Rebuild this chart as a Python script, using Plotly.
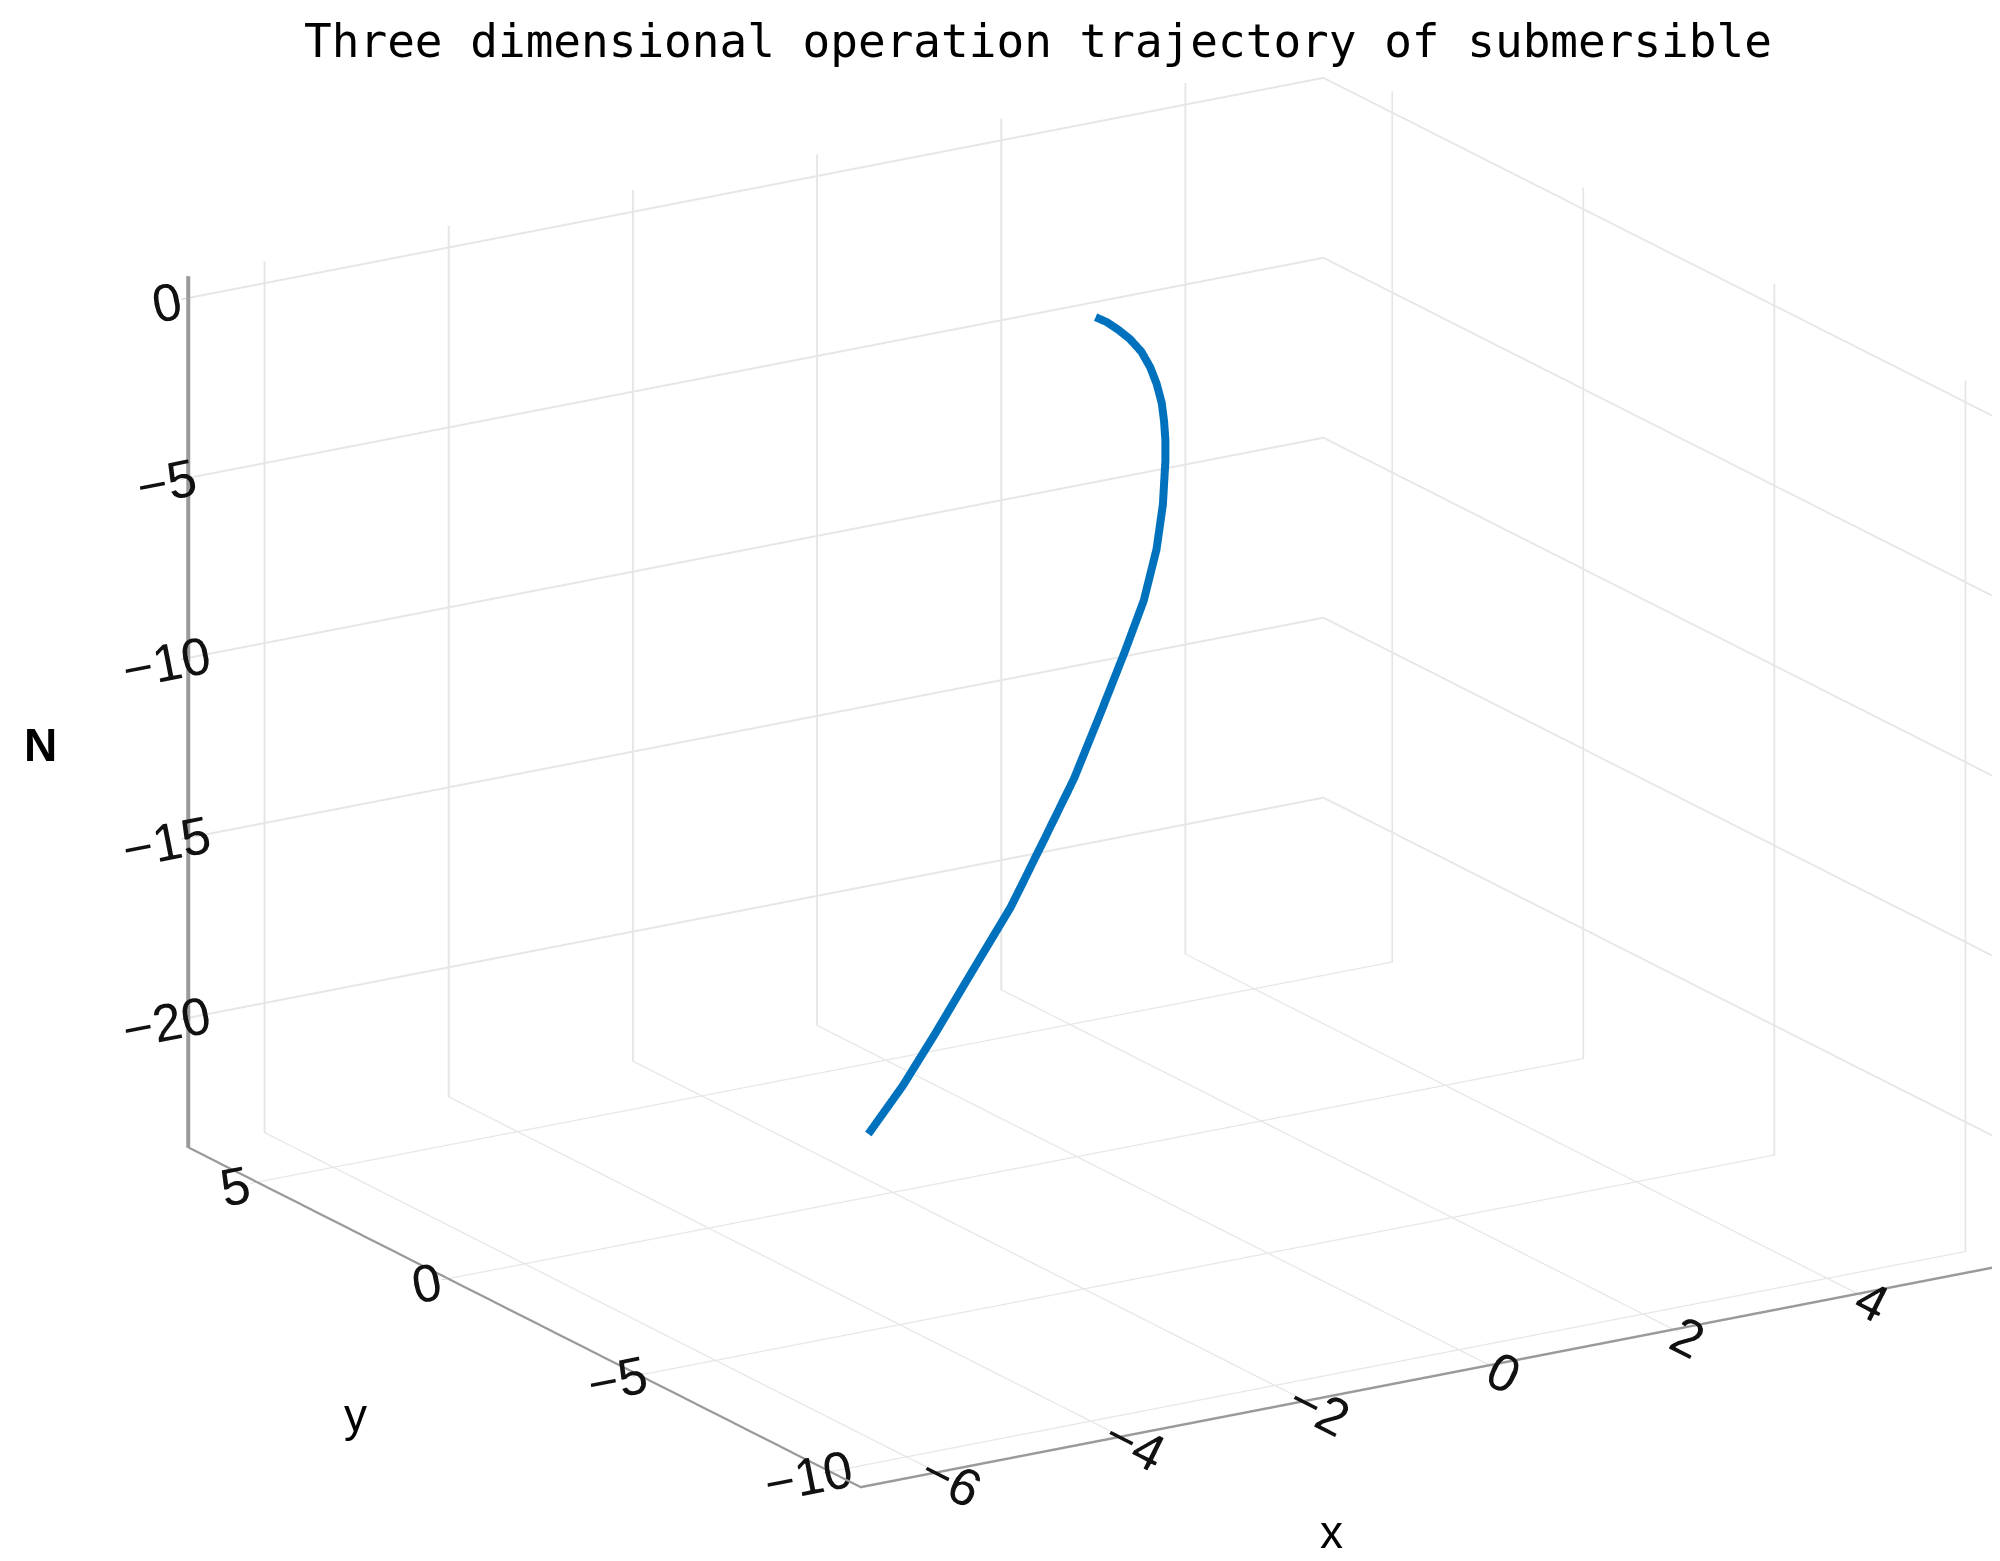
import plotly.graph_objects as go

# trajectory samples (horizontal drift, depth)
x_pos = [0.240, 0.317, 0.394, 0.471, 0.548, 0.607, 0.650, 0.685, 0.701, 0.710,
         0.710, 0.701, 0.693, 0.650, 0.564, 0.437, 0.267, 0.095, -0.118, -0.331,
         -0.589, -0.845, -1.058, -1.290]
y_pos = [0.089, -0.025, -0.139, -0.252, -0.367, -0.454, -0.517, -0.569, -0.593, -0.606,
         -0.606, -0.593, -0.580, -0.517, -0.390, -0.202, 0.049, 0.303, 0.618, 0.933,
         1.314, 1.692, 2.007, 2.35]
depth = [-0.44, -0.56, -0.75, -0.98, -1.31, -1.72, -2.16, -2.69, -3.21, -3.74,
         -4.28, -4.91, -5.52, -6.77, -8.22, -9.67, -11.5, -13.3, -15.16, -17.0,
         -18.85, -20.7, -22.18, -23.59]

x_ticks = [-6, -4, -2, 0, 2, 4]
y_ticks = [-10, -5, 0, 5]
z_ticks = [-20, -15, -10, -5, 0]

fig = go.Figure()
fig.add_trace(go.Scatter3d(
    x=x_pos, y=y_pos, z=depth,
    mode='lines',
    line=dict(color='#0072BD', width=16),
    showlegend=False,
))


def axis_style(rng, ticks, line_w=5):
    return dict(
        range=rng,
        tickvals=ticks,
        title=dict(text=''),
        showbackground=False,
        showgrid=True,
        gridcolor='#e6e6e6',
        gridwidth=4,
        showline=True,
        linecolor='#9a9a9a',
        linewidth=line_w,
        ticks='outside',
        tickcolor='#9a9a9a',
        ticklen=8,
        zeroline=False,
        showspikes=False,
        tickfont=dict(family='Liberation Sans', size=25, color='#111111'),
    )


fig.update_layout(
    width=2000,
    height=1561,
    paper_bgcolor='white',
    margin=dict(l=0, r=0, t=0, b=0),
    title=dict(
        text='Three dimensional operation trajectory of submersible',
        x=0.515, y=0.979, xanchor='center', yanchor='middle',
        font=dict(family='DejaVu Sans Mono', size=46, color='black'),
    ),
    scene=dict(
        domain=dict(x=[0.0, 1.0], y=[0.0, 1.0]),
        xaxis=axis_style([-6.83, 5.5], x_ticks),
        yaxis=axis_style([-10.8, 6.8], y_ticks),
        zaxis=axis_style([-23.6, 0.6], z_ticks, line_w=8),
        aspectmode='manual',
        aspectratio=dict(x=1.711, y=1.636, z=1.175),
        camera=dict(
            eye=dict(x=-0.680, y=-0.893, z=0.3455),
            up=dict(x=0, y=0, z=1),
            center=dict(x=-0.0951, y=0.0511, z=-0.0205),
            projection=dict(type='orthographic'),
        ),
    ),
    annotations=[
        dict(text='<b>N</b>', x=32 / 2000, y=1 - 737 / 1561, xref='paper', yref='paper',
             xanchor='center', yanchor='middle', showarrow=False,
             font=dict(family='Liberation Sans', size=46, color='black')),
        dict(text='y', x=347 / 2000, y=1 - 1407 / 1561, xref='paper', yref='paper',
             xanchor='center', yanchor='middle', showarrow=False,
             font=dict(family='Liberation Sans', size=46, color='black')),
        dict(text='x', x=1323 / 2000, y=1 - 1524 / 1561, xref='paper', yref='paper',
             xanchor='center', yanchor='middle', showarrow=False,
             font=dict(family='Liberation Sans', size=46, color='black')),
    ],
)

fig.write_html("out.html")
